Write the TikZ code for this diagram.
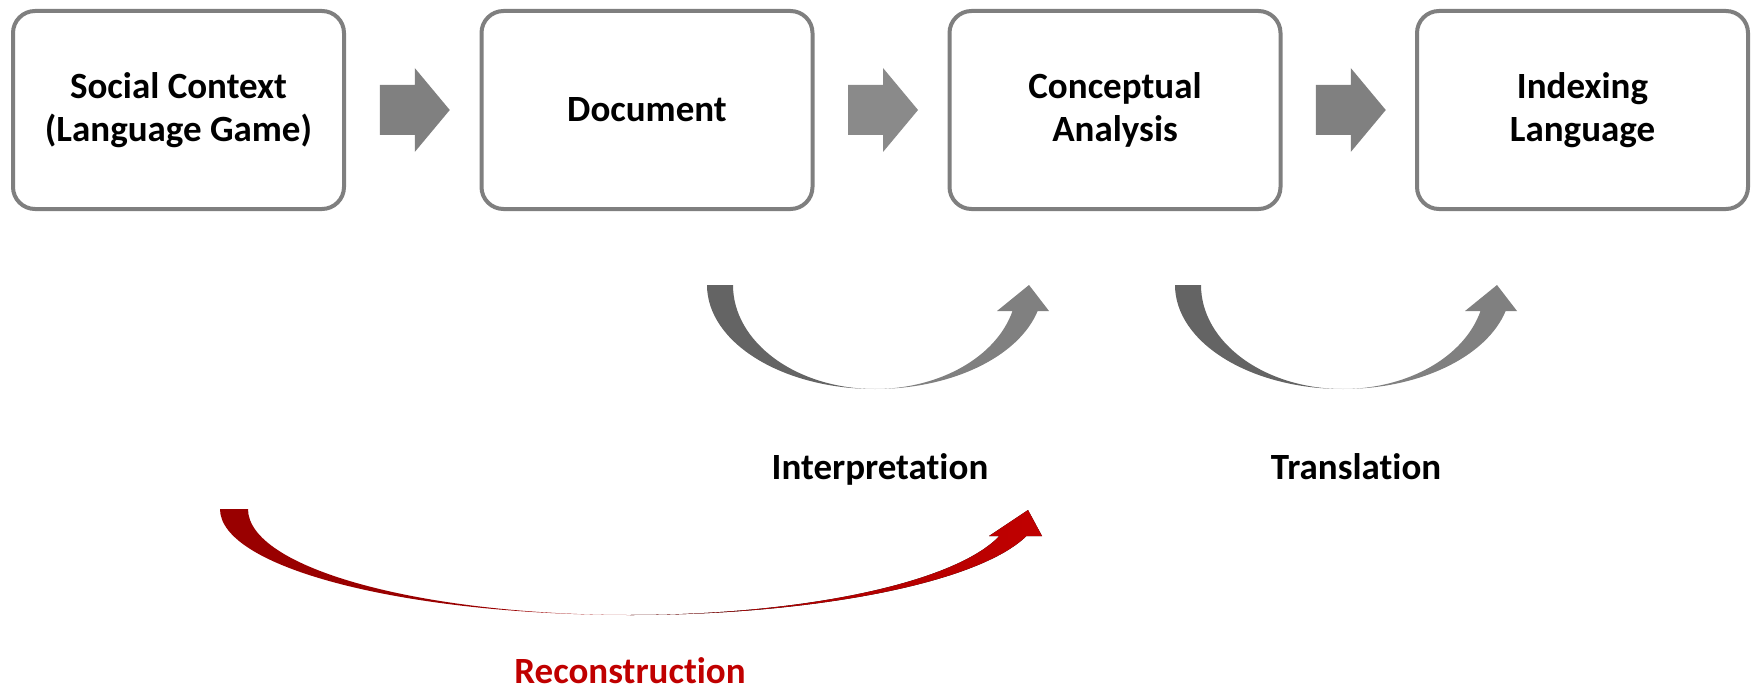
\documentclass[tikz,border=0pt]{standalone}
\usepackage{fontspec}
\setmainfont{Carlito}[Ligatures=CommonOff]
\usetikzlibrary{calc}
\definecolor{boxgray}{HTML}{7F7F7F}
\definecolor{arrgray}{HTML}{808080}
\definecolor{arrgraysoft}{HTML}{8A8A8A}
\definecolor{curvedark}{HTML}{646464}
\definecolor{curvelight}{HTML}{808080}
\definecolor{recdark}{HTML}{990000}
\definecolor{recmid}{HTML}{A20000}
\definecolor{reclight}{HTML}{C00000}
\tikzset{
  stagebox/.style={draw=boxgray, line width=4pt, rounded corners=22pt, fill=white,
    minimum width=331pt, minimum height=198pt, align=center, inner sep=0pt,
    font=\fontsize{37}{43}\selectfont\bfseries},
  steplabel/.style={anchor=base, inner sep=0pt, font=\fontsize{37}{43}\selectfont\bfseries},
  blockarrow/.pic={\fill (-35,-25) -- (0,-25) -- (0,-42) -- (35,0) -- (0,42) -- (0,25) -- (-35,25) -- cycle;}
}
\begin{document}
\begin{tikzpicture}[x=1pt,y=-1pt]
\useasboundingbox (0,0) rectangle (1756,690);

% the four stages
\node[stagebox] (context) at (178.5,110) {Social Context\\(Language Game)};
\node[stagebox] (document) at (647,110) {Document};
\node[stagebox] (concept) at (1115,110) {Conceptual\\Analysis};
\node[stagebox] (index) at (1582.5,110) {Indexing\\Language};

% block arrows between the stages
\coordinate (m1) at ($(context.east)!0.5!(document.west)+(2,0)$);
\coordinate (m2) at ($(document.east)!0.5!(concept.west)+(2,0)$);
\coordinate (m3) at ($(concept.east)!0.5!(index.west)+(2,0)$);
\pic[fill=arrgray] at (m1) {blockarrow};
\pic[fill=arrgraysoft] at (m2) {blockarrow};
\pic[fill=arrgray] at (m3) {blockarrow};

% curved arrows: Interpretation and Translation
\foreach \dx/\nm in {0/interp, 468/transl}{
  \begin{scope}[xshift=\dx pt]
    \fill[curvedark] (707,285) arc[start angle=180, end angle=90, x radius=168, y radius=104]
      arc[start angle=90, end angle=180, x radius=142, y radius=104] -- cycle;
    \fill[curvelight] (875,389) arc[start angle=90, end angle=14.48, x radius=168, y radius=104]
      -- (1049,311) -- (1029,285) -- (997,311) -- (1012.5,311)
      arc[start angle=14.48, end angle=90, x radius=142, y radius=104] -- cycle;
  \end{scope}
}

% curved arrow: Reconstruction
\fill[recdark] (220,509) arc[start angle=180, end angle=90, x radius=410, y radius=106]
  arc[start angle=90, end angle=180, x radius=382, y radius=106] -- cycle;
\fill[left color=recmid, right color=reclight] (630,615)
  arc[start angle=90, end angle=14.76, x radius=410, y radius=106]
  -- (1042,536) -- (1028,510) -- (989,536) -- (999.4,536)
  arc[start angle=14.76, end angle=90, x radius=382, y radius=106] -- cycle;

% labels
\node[steplabel] (lint) at (880,479) {Interpretation};
\node[steplabel] (ltr) at (1356,479) {Translation};
\node[steplabel, text=reclight] (lrec) at (630,683) {Reconstruction};
\end{tikzpicture}
\end{document}
